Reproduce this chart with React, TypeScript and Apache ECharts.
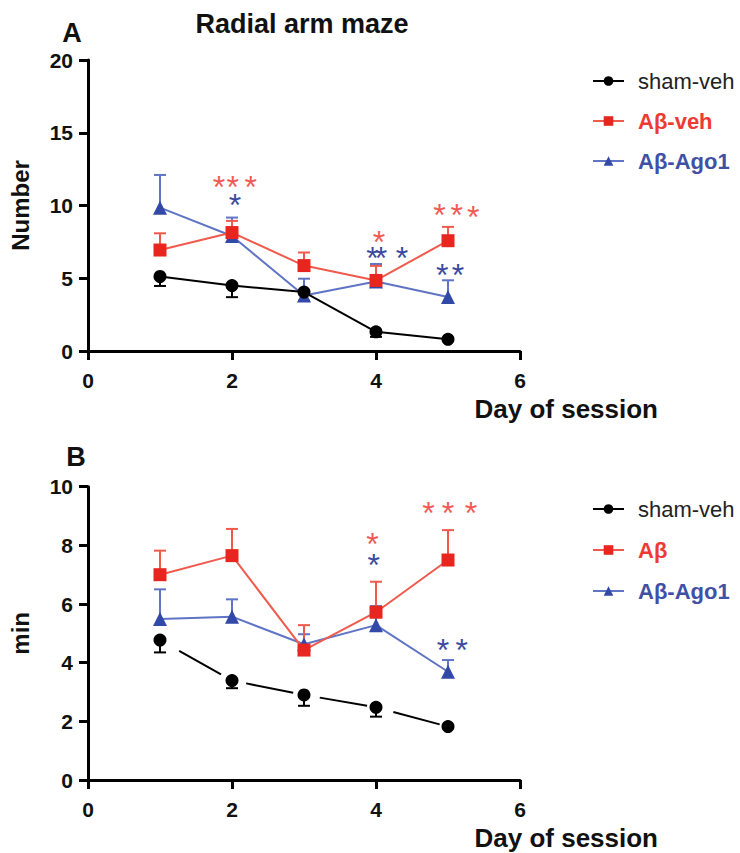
import React, { useEffect, useRef } from "react";
import * as echarts from "echarts";

const FONT = 'Arial, "Liberation Sans", Helvetica, sans-serif';

const days = [1, 2, 3, 4, 5];

// Panel A: Radial arm maze – Number (mean, SEM)
const aShamMean = [5.12, 4.5, 4.05, 1.32, 0.8];
const aShamSem = [0.65, 0.8, 0.6, 0.35, 0.1];
const aAbMean = [6.94, 8.14, 5.87, 4.85, 7.58];
const aAbSem = [1.15, 0.8, 0.9, 1.0, 0.95];
const aAgoMean = [9.85, 7.9, 3.82, 4.78, 3.71];
const aAgoSem = [2.25, 1.27, 1.15, 1.2, 1.15];

// Panel B: min (mean, SEM)
const bShamMean = [4.77, 3.39, 2.9, 2.48, 1.82];
const bShamSem = [0.42, 0.26, 0.37, 0.32, 0.05];
const bAbMean = [7.0, 7.65, 4.43, 5.72, 7.5];
const bAbSem = [0.82, 0.91, 0.85, 1.04, 1.02];
const bAgoMean = [5.49, 5.57, 4.63, 5.28, 3.69];
const bAgoSem = [1.01, 0.59, 0.34, 0.65, 0.4];

// significance asterisks [day, value]
const aRedStars = [[1.82, 11.55], [2.01, 11.55], [2.26, 11.55], [4.04, 7.8], [4.88, 9.62], [5.12, 9.62], [5.35, 9.5]];
const aBlueStars = [[2.04, 10.3], [3.95, 6.67], [4.07, 6.67], [4.36, 6.67], [4.92, 5.5], [5.14, 5.5]];
const bRedStars = [[4.73, 9.23], [5.0, 9.25], [5.32, 9.25], [3.95, 8.18]];
const bBlueStars = [[3.97, 7.48], [4.93, 4.57], [5.19, 4.57]];

const xTicks = { min: 0, max: 6, interval: 2 };
const aYTicks = { min: 0, max: 20, interval: 5 };
const bYTicks = { min: 0, max: 10, interval: 2 };

const BLACK = "#000000";
const RED_MARK = "#e8261f";
const RED_LINE = "#f05a4d";
const RED_TEXT = "#ee3a32";
const RED_STAR = "#f05a55";
const BLUE_MARK = "#3349a8";
const BLUE_LINE = "#5f74c4";
const BLUE_TEXT = "#3f51a5";
const BLUE_STAR = "#3b4aa0";

function errorSeries(id: string, axis: number, means: number[], sems: number[], dir: number, color: string) {
  return {
    type: "custom",
    id,
    name: id,
    xAxisIndex: axis,
    yAxisIndex: axis,
    z: 1,
    data: days.map((d, i) => [d, means[i], means[i] + dir * sems[i]]),
    encode: { x: 0, y: [1, 2] },
    renderItem: (params: any, api: any) => {
      const x = api.value(0);
      const p0 = api.coord([x, api.value(1)]);
      const p1 = api.coord([x, api.value(2)]);
      return {
        type: "group",
        children: [
          { type: "line", shape: { x1: p0[0], y1: p0[1], x2: p1[0], y2: p1[1] }, style: { stroke: color, lineWidth: 2 } },
          { type: "line", shape: { x1: p1[0] - 6, y1: p1[1], x2: p1[0] + 6, y2: p1[1] }, style: { stroke: color, lineWidth: 2 } },
        ],
      };
    },
  };
}

function starSeries(id: string, axis: number, pts: number[][], color: string) {
  return {
    type: "custom",
    id,
    name: id,
    xAxisIndex: axis,
    yAxisIndex: axis,
    z: 5,
    data: pts,
    renderItem: (params: any, api: any) => {
      const p = api.coord([api.value(0), api.value(1)]);
      return {
        type: "text",
        x: p[0],
        y: p[1] + 4,
        style: { text: "*", fill: color, font: `32px ${FONT}`, align: "center", verticalAlign: "middle" },
      };
    },
  };
}

function lineSeries(name: string, axis: number, means: number[], symbol: string, size: number, mark: string, line: string, dashed = false) {
  return {
    type: "line",
    name,
    xAxisIndex: axis,
    yAxisIndex: axis,
    z: 3,
    data: days.map((d, i) => [d, means[i]]),
    symbol,
    symbolSize: size,
    itemStyle: { color: mark },
    lineStyle: dashed ? { color: line, width: 2, type: [0, 22, 48, 5] } : { color: line, width: 2 },
  };
}

function xAxis(grid: number) {
  return {
    type: "value",
    gridIndex: grid,
    ...xTicks,
    name: "Day of session",
    nameLocation: "end",
    nameGap: 138,
    nameTextStyle: { fontFamily: FONT, fontSize: 26, fontWeight: "bold", color: "#111", align: "right", verticalAlign: "top", padding: [45, 0, 0, 0] },
    axisLine: { show: true, lineStyle: { color: BLACK, width: 3 } },
    axisTick: { show: true, length: 9, lineStyle: { color: BLACK, width: 3 } },
    axisLabel: { fontFamily: FONT, fontSize: 21, fontWeight: "bold", color: "#111", margin: 19 },
    splitLine: { show: false },
  };
}

function yAxis(grid: number, ticks: any, name: string) {
  return {
    type: "value",
    gridIndex: grid,
    ...ticks,
    name,
    nameLocation: "middle",
    nameGap: 56,
    nameTextStyle: { fontFamily: FONT, fontSize: 24, fontWeight: "bold", color: "#111" },
    axisLine: { show: true, lineStyle: { color: BLACK, width: 3 } },
    axisTick: { show: true, length: 9, lineStyle: { color: BLACK, width: 3 } },
    axisLabel: { fontFamily: FONT, fontSize: 21, fontWeight: "bold", color: "#111", margin: 15 },
    splitLine: { show: false },
  };
}

function legend(top: number, gap: number, names: string[]) {
  return {
    left: 587,
    top,
    orient: "vertical",
    itemWidth: 31,
    itemHeight: 12,
    itemGap: gap,
    selectedMode: false,
    textStyle: { fontFamily: FONT, fontSize: 22, padding: [0, 0, 0, 9] },
    data: [
      { name: names[0], textStyle: { color: "#222", fontWeight: "normal" } },
      { name: names[1], textStyle: { color: RED_TEXT, fontWeight: "bold" } },
      { name: names[2], textStyle: { color: BLUE_TEXT, fontWeight: "bold" } },
    ],
  };
}

export default function App() {
  const ref = useRef<HTMLDivElement>(null);
  useEffect(() => {
    document.body.style.margin = "0";
    const chart = echarts.init(ref.current!, null, { renderer: "svg" });
    chart.setOption({
      animation: false,
      backgroundColor: "#ffffff",
      title: [
        { text: "Radial arm maze", left: 302, top: 10, textAlign: "center", padding: 0, textStyle: { fontFamily: FONT, fontSize: 27, fontWeight: "bold", color: "#111" } },
        { text: "A", left: 72, top: 19, textAlign: "center", padding: 0, textStyle: { fontFamily: FONT, fontSize: 27, fontWeight: "bold", color: "#111" } },
        { text: "B", left: 76, top: 443, textAlign: "center", padding: 0, textStyle: { fontFamily: FONT, fontSize: 27, fontWeight: "bold", color: "#111" } },
      ],
      legend: [legend(65, 18, ["sham-veh", "Aβ-veh", "Aβ-Ago1"]), legend(493, 19, ["sham-veh", "Aβ", "Aβ-Ago1"])],
      grid: [
        { left: 80.7, top: 60, width: 439.3, height: 291 },
        { left: 80.7, top: 486.7, width: 439.3, height: 293.3 },
      ],
      xAxis: [xAxis(0), xAxis(1)],
      yAxis: [yAxis(0, aYTicks, "Number"), yAxis(1, bYTicks, "min")],
      series: [
        errorSeries("errA-ago", 0, aAgoMean, aAgoSem, 1, BLUE_LINE),
        errorSeries("errA-ab", 0, aAbMean, aAbSem, 1, RED_LINE),
        errorSeries("errA-sham", 0, aShamMean, aShamSem, -1, BLACK),
        lineSeries("Aβ-Ago1", 0, aAgoMean, "triangle", 14, BLUE_MARK, BLUE_LINE),
        lineSeries("Aβ-veh", 0, aAbMean, "rect", 13, RED_MARK, RED_LINE),
        lineSeries("sham-veh", 0, aShamMean, "circle", 13, BLACK, BLACK),
        starSeries("starsA-red", 0, aRedStars, RED_STAR),
        starSeries("starsA-blue", 0, aBlueStars, BLUE_STAR),

        errorSeries("errB-ago", 1, bAgoMean, bAgoSem, 1, BLUE_LINE),
        errorSeries("errB-ab", 1, bAbMean, bAbSem, 1, RED_LINE),
        errorSeries("errB-sham", 1, bShamMean, bShamSem, -1, BLACK),
        lineSeries("Aβ-Ago1 ", 1, bAgoMean, "triangle", 14, BLUE_MARK, BLUE_LINE),
        lineSeries("Aβ", 1, bAbMean, "rect", 13, RED_MARK, RED_LINE),
        lineSeries("sham-veh ", 1, bShamMean, "circle", 13, BLACK, BLACK, true),
        starSeries("starsB-red", 1, bRedStars, RED_STAR),
        starSeries("starsB-blue", 1, bBlueStars, BLUE_STAR),
      ],
    });
    return () => chart.dispose();
  }, []);
  return <div ref={ref} style={{ width: 740, height: 853 }} />;
}
